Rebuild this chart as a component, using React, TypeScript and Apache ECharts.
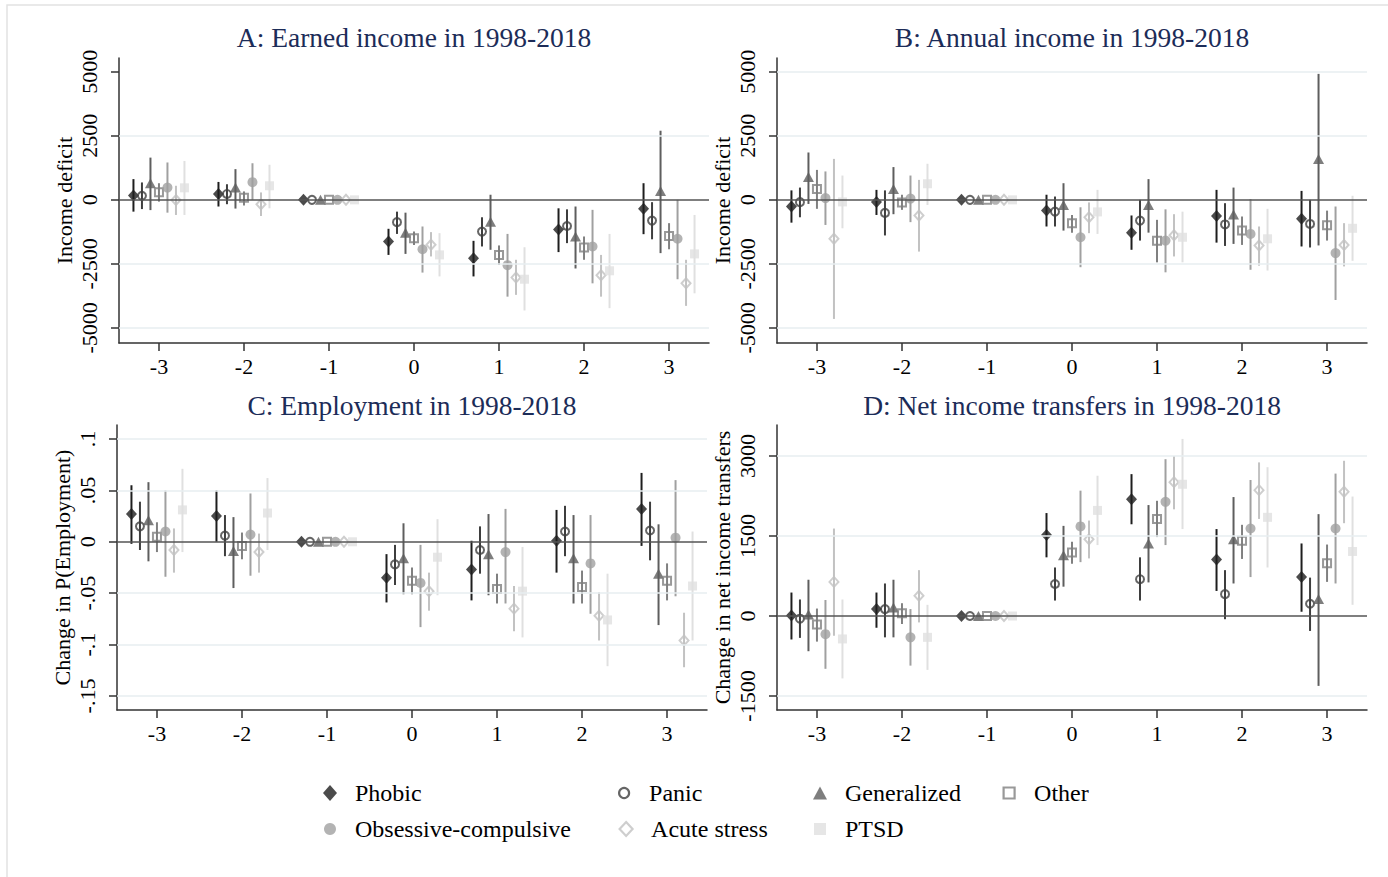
import React, { useEffect, useRef } from 'react';
import * as echarts from 'echarts';

// ---------- categories ----------
const periods = [-3, -2, -1, 0, 1, 2, 3];
const groups = ['Phobic', 'Panic', 'Generalized', 'Other', 'Obsessive-compulsive', 'Acute stress', 'PTSD'];

// ---------- Panel A: Earned income (est, lo, hi) per period ----------
const earnedPhobic = [[170, -460, 810], [230, -260, 700], [0, 0, 0], [-1630, -2150, -1130], [-2280, -2990, -1600], [-1160, -2040, -330], [-350, -1340, 650]];
const earnedPanic = [[160, -360, 680], [230, -170, 610], [0, 0, 0], [-870, -1330, -460], [-1240, -1820, -680], [-1020, -1690, -370], [-810, -1540, -90]];
const earnedGeneralized = [[650, -400, 1650], [480, -340, 1200], [0, 0, 0], [-1280, -2110, -500], [-850, -1950, 200], [-1430, -2680, -260], [350, -2080, 2700]];
const earnedOther = [[300, -70, 650], [80, -220, 330], [0, 0, 0], [-1500, -1760, -1240], [-2150, -2540, -1780], [-1860, -2340, -1430], [-1410, -1930, -910]];
const earnedOCD = [[480, -500, 1460], [690, 0, 1430], [0, 0, 0], [-1930, -2840, -1040], [-2550, -3780, -1330], [-1820, -3260, -390], [-1520, -3100, 0]];
const earnedAcute = [[-10, -590, 550], [-170, -630, 290], [0, 0, 0], [-1750, -2210, -1260], [-3030, -3710, -2340], [-2940, -3780, -2150], [-3260, -4140, -2340]];
const earnedPTSD = [[470, -590, 1520], [550, -330, 1370], [0, 0, 0], [-2150, -2990, -1300], [-3100, -4320, -1850], [-2770, -4230, -1330], [-2110, -3650, -590]];

// ---------- Panel B: Annual income ----------
const annualPhobic = [[-260, -890, 370], [-80, -590, 390], [0, 0, 0], [-420, -1040, 200], [-1280, -1950, -610], [-630, -1670, 390], [-740, -1820, 350]];
const annualPanic = [[-90, -680, 480], [-510, -1390, 370], [0, 0, 0], [-460, -1040, 130], [-810, -1590, 0], [-960, -1800, -130], [-940, -1860, 0]];
const annualGeneralized = [[890, -160, 1850], [420, -560, 1280], [0, 0, 0], [-200, -1200, 650], [-200, -1280, 810], [-570, -1720, 480], [1600, -1780, 4920]];
const annualOther = [[420, -350, 1170], [-100, -390, 200], [0, 0, 0], [-910, -1280, -590], [-1600, -2440, -780], [-1200, -1760, -650], [-990, -1590, -420]];
const annualOCD = [[70, -980, 1110], [50, -870, 950], [0, 0, 0], [-1460, -2630, -290], [-1590, -2830, -370], [-1330, -2730, 30], [-2080, -3910, -260]];
const annualAcute = [[-1520, -4650, 1600], [-610, -2020, 780], [0, 0, 0], [-680, -1300, -100], [-1380, -2210, -560], [-1780, -2570, -1040], [-1760, -2600, -910]];
const annualPTSD = [[-80, -1110, 950], [630, -200, 1410], [0, 0, 0], [-470, -1330, 390], [-1460, -2440, -460], [-1520, -2760, -350], [-1110, -2380, 160]];

// ---------- Panel C: Employment ----------
const emplPhobic = [[0.027, -0.002, 0.055], [0.025, 0, 0.05], [0, 0, 0], [-0.035, -0.059, -0.012], [-0.027, -0.057, 0.001], [0.001, -0.03, 0.031], [0.032, -0.004, 0.067]];
const emplPanic = [[0.015, -0.008, 0.039], [0.006, -0.014, 0.026], [0, 0, 0], [-0.022, -0.042, -0.003], [-0.008, -0.031, 0.015], [0.01, -0.014, 0.035], [0.011, -0.018, 0.039]];
const emplGeneralized = [[0.021, -0.019, 0.058], [-0.009, -0.045, 0.024], [0, 0, 0], [-0.016, -0.051, 0.018], [-0.012, -0.052, 0.027], [-0.016, -0.06, 0.026], [-0.031, -0.081, 0.017]];
const emplOther = [[0.005, -0.01, 0.019], [-0.004, -0.017, 0.009], [0, 0, 0], [-0.038, -0.051, -0.025], [-0.046, -0.06, -0.031], [-0.044, -0.06, -0.028], [-0.038, -0.057, -0.021]];
const emplOCD = [[0.01, -0.034, 0.05], [0.007, -0.033, 0.047], [0, 0, 0], [-0.04, -0.083, -0.003], [-0.01, -0.06, 0.032], [-0.021, -0.07, 0.026], [0.004, -0.053, 0.06]];
const emplAcute = [[-0.008, -0.03, 0.013], [-0.01, -0.03, 0.008], [0, 0, 0], [-0.048, -0.067, -0.03], [-0.065, -0.087, -0.043], [-0.072, -0.096, -0.049], [-0.096, -0.122, -0.069]];
const emplPTSD = [[0.031, -0.01, 0.071], [0.028, -0.008, 0.062], [0, 0, 0], [-0.015, -0.052, 0.022], [-0.048, -0.093, -0.005], [-0.076, -0.121, -0.031], [-0.043, -0.096, 0.01]];

// ---------- Panel D: Net income transfers ----------
const transPhobic = [[10, -440, 440], [130, -220, 440], [0, 0, 0], [1520, 1100, 1930], [2190, 1720, 2660], [1060, 470, 1630], [730, 80, 1360]];
const transPanic = [[-50, -410, 310], [130, -400, 610], [0, 0, 0], [600, 290, 910], [690, 290, 1100], [410, -60, 860], [230, -280, 720]];
const transGeneralized = [[30, -660, 680], [160, -400, 680], [0, 0, 0], [1140, 550, 1690], [1360, 630, 2080], [1440, 610, 2230], [320, -1310, 1910]];
const transOther = [[-160, -480, 140], [50, -150, 240], [0, 0, 0], [1190, 980, 1390], [1820, 1480, 2160], [1410, 1070, 1710], [990, 640, 1340]];
const transOCD = [[-340, -990, 300], [-400, -930, 130], [0, 0, 0], [1680, 1010, 2350], [2140, 1330, 2940], [1640, 730, 2550], [1640, 610, 2670]];
const transAcute = [[640, -370, 1640], [380, -120, 860], [0, 0, 0], [1440, 1080, 1790], [2510, 2000, 3000], [2360, 1820, 2880], [2330, 1740, 2910]];
const transPTSD = [[-430, -1170, 310], [-400, -1010, 210], [0, 0, 0], [1980, 1330, 2630], [2470, 1630, 3320], [1850, 910, 2790], [1210, 210, 2240]];

// ---------- tick labels ----------
const incomeTicks = [-5000, -2500, 0, 2500, 5000];
const emplTicks = [-0.15, -0.1, -0.05, 0, 0.05, 0.1];
const transTicks = [-1500, 0, 1500, 3000];
const earnedGrid = [2500, -2500, -5000];
const annualGrid = [5000, 2500, -2500, -5000];
const emplGrid = [0.1, 0.05, -0.05, -0.1, -0.15];
const transGrid = [3000, 1500, -1500];

const titles = ['A: Earned income in 1998-2018', 'B: Annual income in 1998-2018', 'C: Employment in 1998-2018', 'D: Net income transfers in 1998-2018'];
const yNames = ['Income deficit', 'Income deficit', 'Change in P(Employment)', 'Change in net income transfers'];

// ---------- styles ----------
const FONT = '"Liberation Serif", "Times New Roman", serif';
const colors = ['#1e1e1e', '#3e3e3e', '#5e5e5e', '#808080', '#a0a0a0', '#c2c2c2', '#e0e0e0'];
const symbols = ['diamond', 'circle', 'triangle', 'rect', 'circle', 'diamond', 'rect'];
const hollow = [false, true, false, true, false, true, false];
const markerSizes = [[11, 12], [8, 8], [11, 10], [8, 8], [10, 10], [9, 10], [9, 9]];
const legendSizes = [[14, 16], [10, 10], [14, 13], [11, 11], [12, 12], [13, 14], [12, 12]];

const panels = [
  { data: [earnedPhobic, earnedPanic, earnedGeneralized, earnedOther, earnedOCD, earnedAcute, earnedPTSD], ticks: incomeTicks, grid: earnedGrid, min: -5590, max: 5540 },
  { data: [annualPhobic, annualPanic, annualGeneralized, annualOther, annualOCD, annualAcute, annualPTSD], ticks: incomeTicks, grid: annualGrid, min: -5590, max: 5540 },
  { data: [emplPhobic, emplPanic, emplGeneralized, emplOther, emplOCD, emplAcute, emplPTSD], ticks: emplTicks, grid: emplGrid, min: -0.1636, max: 0.1136 },
  { data: [transPhobic, transPanic, transGeneralized, transOther, transOCD, transAcute, transPTSD], ticks: transTicks, grid: transGrid, min: -1762, max: 3581 },
];

const gridBoxes = [
  { left: 119, top: 58 },
  { left: 777, top: 58 },
  { left: 117, top: 425 },
  { left: 777, top: 425 },
];
const titlePos = [[414, 37], [1072, 37], [412, 405], [1072, 405]];

const legendPos = [
  [330, 793], [623, 793], [820, 793], [1008, 793],
  [330, 829], [625, 829], [820, 829],
];

function fmtY(panelIdx: number, v: number): string {
  if (panelIdx === 2) {
    if (Math.abs(v) < 1e-9) return '0';
    return String(Number(v.toFixed(2))).replace('0.', '.');
  }
  return String(Math.round(v));
}

function buildOption() {
  const grid: any[] = [];
  const xAxis: any[] = [];
  const yAxis: any[] = [];
  const series: any[] = [];
  const axisColor = '#333';

  panels.forEach((p, pi) => {
    grid.push({ left: gridBoxes[pi].left, top: gridBoxes[pi].top, width: 590, height: 285, containLabel: false });
    xAxis.push({
      gridIndex: pi, type: 'value', min: -3.47, max: 3.47,
      axisLine: { show: true, onZero: false, lineStyle: { color: axisColor, width: 1.5 } },
      axisTick: { show: true, length: 8, customValues: periods, lineStyle: { color: axisColor, width: 1.5 } },
      axisLabel: { customValues: periods, margin: 12, fontSize: 22, fontFamily: FONT, color: '#000', formatter: (v: number) => String(v) },
      splitLine: { show: false },
    });
    yAxis.push({
      gridIndex: pi, type: 'value', min: p.min, max: p.max,
      name: yNames[pi], nameLocation: 'middle', nameGap: 44,
      nameTextStyle: { fontSize: 22, fontFamily: FONT, color: '#000' },
      axisLine: { show: true, onZero: false, lineStyle: { color: axisColor, width: 1.5 } },
      axisTick: { show: true, length: 8, customValues: p.ticks, lineStyle: { color: axisColor, width: 1.5 } },
      axisLabel: { customValues: p.ticks, rotate: 90, margin: 19, fontSize: 22, fontFamily: FONT, color: '#000', formatter: (v: number) => fmtY(pi, v) },
      splitLine: { show: false },
    });

    // grid lines + zero reference line
    series.push({
      type: 'line', name: '_ref' + pi, xAxisIndex: pi, yAxisIndex: pi, data: [[0, 0]],
      symbol: 'none', lineStyle: { opacity: 0 }, silent: true, z: 1,
      markLine: {
        silent: true, symbol: ['none', 'none'], label: { show: false },
        data: [
          ...p.grid.map((v) => ({ yAxis: v, lineStyle: { color: '#e7eef1', width: 1.6, type: 'solid' } })),
          { yAxis: 0, lineStyle: { color: '#555', width: 1.5, type: 'solid' } },
        ],
      },
    });

    groups.forEach((g, gi) => {
      const off = (gi - 3) * 0.1;
      const pts = p.data[gi].map((d, k) => [periods[k] + off, d[0], d[1], d[2]]);
      series.push({
        type: 'custom', name: g + ' CI', xAxisIndex: pi, yAxisIndex: pi, silent: true, z: 3,
        itemStyle: { color: colors[gi] },
        encode: { x: 0, y: 1 },
        data: pts,
        renderItem: (params: any, api: any) => {
          const x = api.value(0);
          const lo = api.value(2);
          const hi = api.value(3);
          if (lo === hi) return null;
          const a = api.coord([x, lo]);
          const b = api.coord([x, hi]);
          return { type: 'line', shape: { x1: a[0], y1: a[1], x2: b[0], y2: b[1] }, style: { stroke: colors[gi], lineWidth: 2 } };
        },
      });
      series.push({
        type: 'scatter', name: g, xAxisIndex: pi, yAxisIndex: pi, z: 4, silent: true,
        symbol: symbols[gi], symbolSize: markerSizes[gi],
        itemStyle: hollow[gi]
          ? { color: 'rgba(255,255,255,0)', borderColor: colors[gi], borderWidth: 2 }
          : { color: colors[gi] },
        data: pts.map((q) => [q[0], q[1]]),
      });
    });
  });

  const legend = groups.map((g, gi) => {
    const [cx, cy] = legendPos[gi];
    const [w, h] = legendSizes[gi];
    return {
      show: true, selectedMode: false, padding: 0,
      left: cx - w / 2, top: cy - 12,
      itemWidth: w, itemHeight: h,
      data: [{
        name: g, icon: symbols[gi],
        itemStyle: hollow[gi]
          ? { color: 'rgba(255,255,255,0)', borderColor: colors[gi], borderWidth: 2.2 }
          : { color: colors[gi], borderWidth: 0 },
      }],
      textStyle: { fontSize: 24, fontFamily: FONT, color: '#000', lineHeight: 24, padding: [0, 0, 0, 20 - w / 2] },
    };
  });

  const graphic: any[] = [
    { type: 'rect', silent: true, z: -10, shape: { x: 7, y: 5, width: 1400, height: 900 }, style: { fill: 'none', stroke: '#e2e2e2', lineWidth: 1.5 } },
    ...titles.map((t, i) => ({
      type: 'text', x: titlePos[i][0], y: titlePos[i][1], silent: true,
      style: { text: t, fontSize: 27.5, fontFamily: FONT, fill: '#1c2c58', align: 'center', verticalAlign: 'middle', textAlign: 'center', textVerticalAlign: 'middle' },
    })),
  ];

  return { animation: false, backgroundColor: '#ffffff', grid, xAxis, yAxis, series, legend, graphic };
}

export default function App() {
  const ref = useRef<HTMLDivElement>(null);
  useEffect(() => {
    if (!ref.current) return;
    const chart = echarts.init(ref.current, undefined, { renderer: 'svg' });
    chart.setOption(buildOption() as any);
    return () => chart.dispose();
  }, []);
  return <div ref={ref} style={{ position: 'absolute', left: 0, top: 0, width: 1388, height: 877, background: '#fff' }} />;
}
